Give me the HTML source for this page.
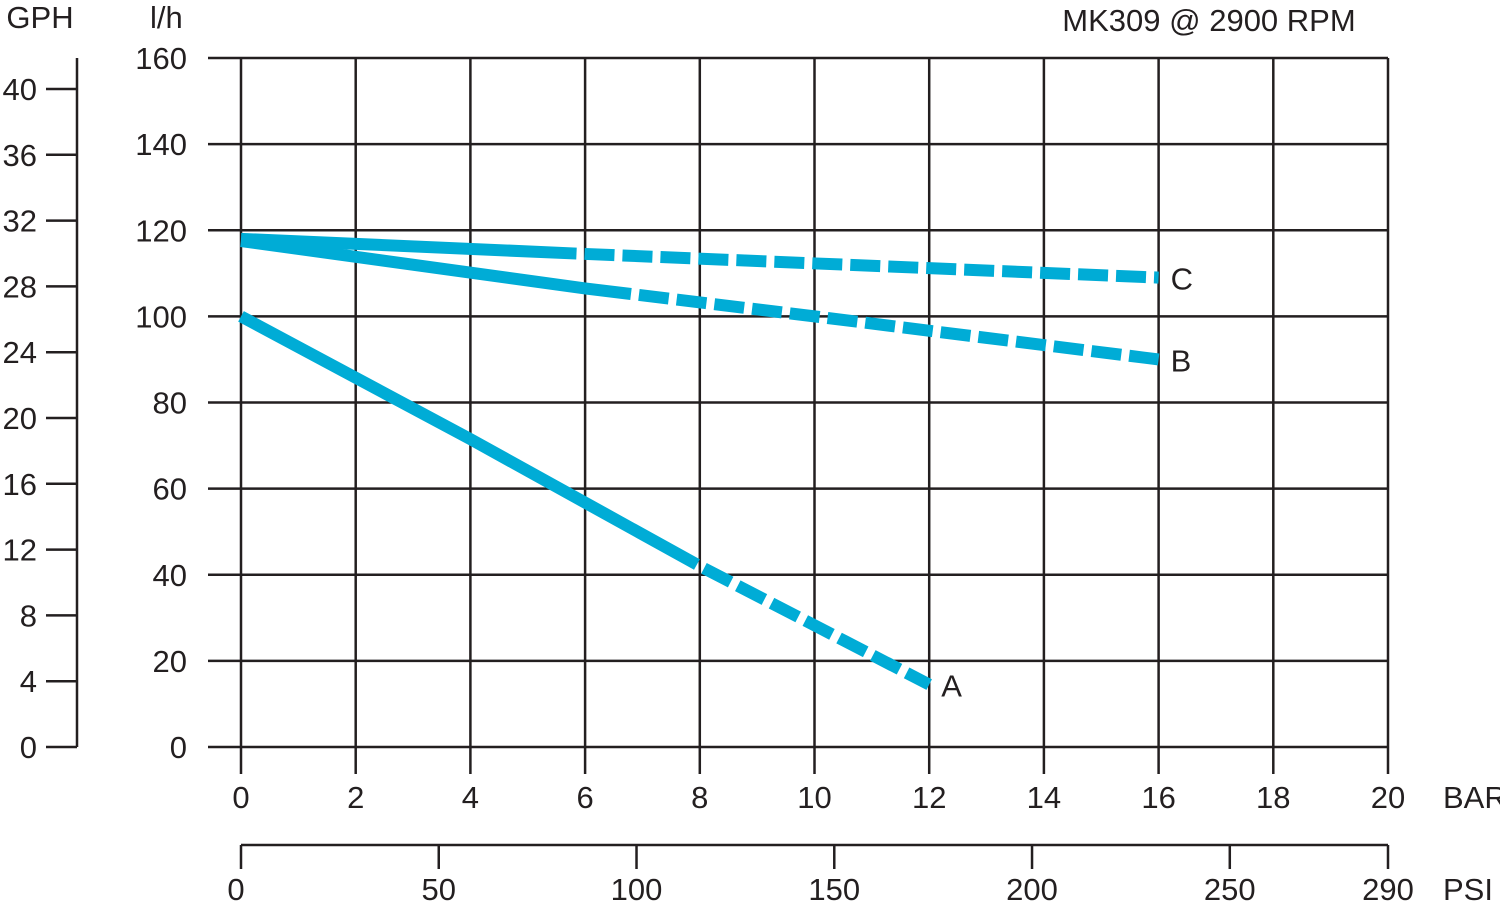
<!DOCTYPE html>
<html><head><meta charset="utf-8"><style>
html,body{margin:0;padding:0;background:#fff;}
svg text{font-family:"Liberation Sans",sans-serif;fill:#231f20;font-size:31px;}
</style></head><body>
<svg id="chart" width="1500" height="909" viewBox="0 0 1500 909" xmlns="http://www.w3.org/2000/svg"></svg>
<script>
const barTicks=[0,2,4,6,8,10,12,14,16,18,20];
const lhTicks=[0,20,40,60,80,100,120,140,160];
const gphTicks=[0,4,8,12,16,20,24,28,32,36,40];
const psiTicks=[0,50,100,150,200,250,290];
const seriesNames=["A","B","C"];
const seriesA_x=[0,4,8,12];
const seriesA_y=[100,71.5,42,14.5];
const seriesA_solidEnd=7.95;
const seriesB_x=[0,6,10,16];
const seriesB_y=[117.5,106.5,100,90];
const seriesB_solidEnd=6.8;
const seriesC_x=[0,6,16];
const seriesC_y=[118,114.5,109];
const seriesC_solidEnd=5.85;

const NS="http://www.w3.org/2000/svg";
const svg=document.getElementById('chart');
const X=v=>241+v*(1388-241)/20;
const Y=v=>747-v*(747-58)/160;
const G=v=>747-v*(747-89)/40;
const P=v=>241+v*(1388-241)/290;
const INK="#231f20", BLUE="#00acd6";
function mk(tag,attrs,parent){const e=document.createElementNS(NS,tag);for(const k in attrs)e.setAttribute(k,attrs[k]);(parent||svg).appendChild(e);return e;}
function line(x1,y1,x2,y2,w,name){const l=mk('line',{x1,y1,x2,y2,stroke:INK,'stroke-width':w||2.5});

return l;}
function text(x,y,s,anchor,name){const t=mk('text',{x,y,'text-anchor':anchor||'middle'});t.textContent=s;

return t;}

lhTicks.forEach(v=>{line(208,Y(v),1388,Y(v),2.5,'lh-gridline');text(187,Y(v)+11,String(v),'end','lh-tick-label');});
barTicks.forEach(v=>{line(X(v),58,X(v),774,2.5,'bar-gridline');text(X(v),808,String(v),'middle','bar-tick-label');});
text(1443,808,'BAR','start','bar-axis-title');
text(150,28,'l/h','start','lh-axis-title');
text(1209,31,'MK309 @ 2900 RPM','middle','chart-title');
line(77,58,77,747,2.5,'gph-axis-line');
gphTicks.forEach(v=>{line(46,G(v),77,G(v),2.5,'gph-tick');text(37,G(v)+11,String(v),'end','gph-tick-label');});
text(40,28,'GPH','middle','gph-axis-title');
line(241,845,1388,845,2.5,'psi-axis-line');
psiTicks.forEach(v=>{line(P(v),845,P(v),869,2.5,'psi-tick');text(P(v)-(v===0?5:0),900,String(v),'middle','psi-tick-label');});
text(1443,900,'PSI','start','psi-axis-title');

function interp(xs,ys,x){for(let i=0;i<xs.length-1;i++){if(x<=xs[i+1])return ys[i]+(ys[i+1]-ys[i])*(x-xs[i])/(xs[i+1]-xs[i]);}return ys[ys.length-1];}
function drawSeries(xs,ys,split,name){
  const solid=[],dash=[];
  xs.forEach((x,i)=>{if(x<split)solid.push([x,ys[i]]);});
  const sy=interp(xs,ys,split);solid.push([split,sy]);dash.push([split,sy]);
  xs.forEach((x,i)=>{if(x>split)dash.push([x,ys[i]]);});
  const pts=a=>a.map(p=>X(p[0])+','+Y(p[1])).join(' ');
  const s=mk('polyline',{points:pts(solid),fill:'none',stroke:BLUE,'stroke-width':12,'stroke-linejoin':'round'});
  
  
  const d=mk('polyline',{points:pts(dash),fill:'none',stroke:BLUE,'stroke-width':12,'stroke-dasharray':'30 8','stroke-dashoffset':'-8'});
  
  
  const lx=xs[xs.length-1],ly=ys[ys.length-1];
  text(X(lx)+12,Y(ly)+12,name,'start','series-label-'+name);
}
drawSeries(seriesA_x,seriesA_y,seriesA_solidEnd,seriesNames[0]);
drawSeries(seriesB_x,seriesB_y,seriesB_solidEnd,seriesNames[1]);
drawSeries(seriesC_x,seriesC_y,seriesC_solidEnd,seriesNames[2]);
</script>
</body></html>
